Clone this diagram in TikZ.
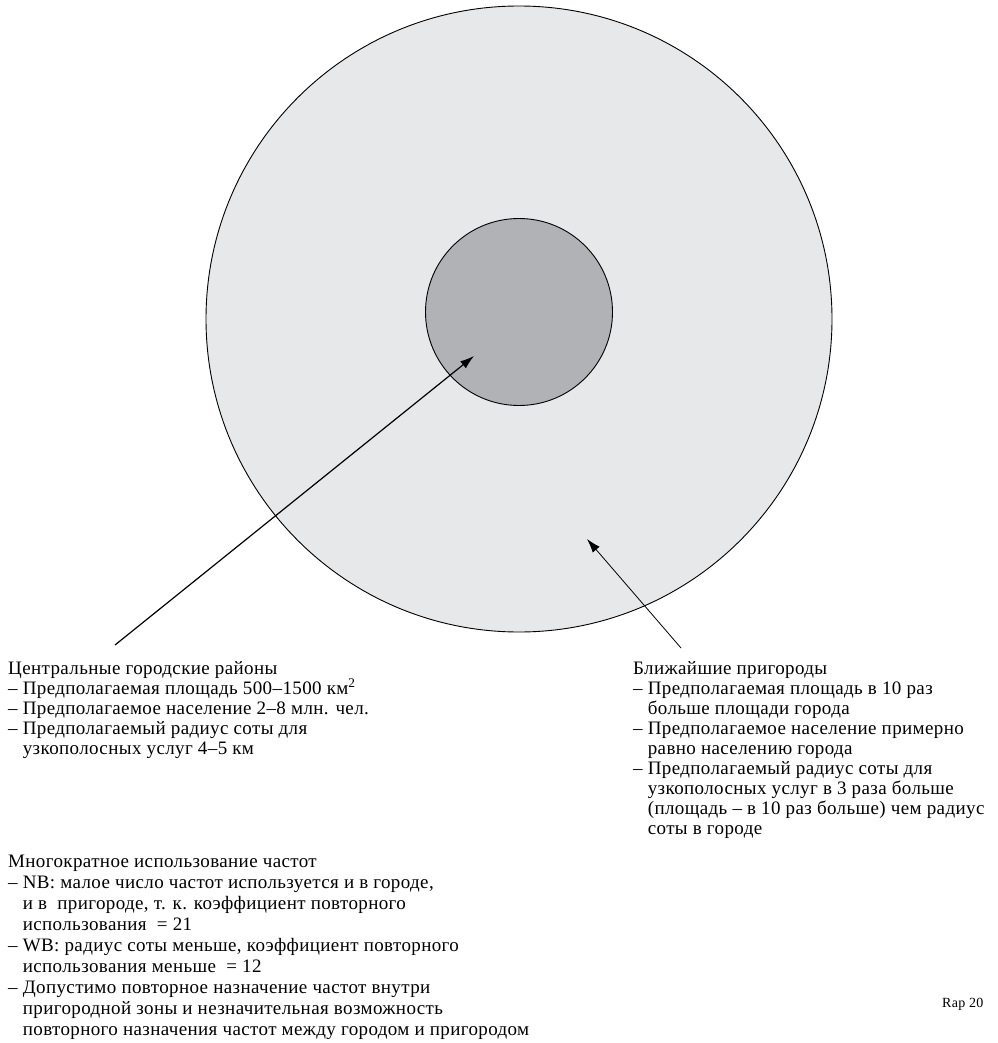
\documentclass[tikz,border=0pt]{standalone}
\usepackage{fontspec}
\setmainfont[LetterSpace=2]{Liberation Serif}
\usetikzlibrary{arrows.meta,shapes.geometric}
\definecolor{outerfill}{RGB}{231,232,234}
\definecolor{innerfill}{RGB}{177,178,181}
\begin{document}
\begin{tikzpicture}[x=1pt,y=-1pt,
  txt/.style={anchor=base west, inner sep=0pt, font=\fontsize{19}{21}\selectfont},
  small/.style={anchor=base west, inner sep=0pt, font=\fontsize{14}{16}\selectfont},
  zone/.style={circle, draw=black, line width=0.9pt, inner sep=0pt},
  ptr/.style={-{Latex[length=14pt,width=9pt]}, line width=1.2pt},
  ptrthin/.style={-{Latex[length=14pt,width=9pt]}, line width=0.8pt}]
\useasboundingbox (0,0) rectangle (997,1043);
\node[zone, fill=outerfill, minimum size=626pt] (suburb) at (519,319) {};
\node[zone, fill=innerfill, minimum size=187pt] (city) at (519,312) {};
\coordinate (citytip) at (474,356);
\coordinate (citytail) at (115,645);
\coordinate (subtip) at (587,539);
\coordinate (subtail) at (681,648);
\draw[ptr] (citytail) -- (citytip);
\draw[ptrthin] (subtail) -- (subtip);
% left block
\node[txt] (l1) at (8,674) {Центральные городские районы};
\node[txt] (l2) at (8,694) {– Предполагаемая площадь 500–1500 км\textsuperscript{2}};
\node[txt] (l3) at (8,714) {– Предполагаемое население 2–8 млн. чел.};
\node[txt] (l4) at (8,734) {– Предполагаемый радиус соты для};
\node[txt] (l5) at (8,754) {\phantom{– }узкополосных услуг 4–5 км};
% right block
\node[txt] (r1) at (633,674) {Ближайшие пригороды};
\node[txt] (r2) at (633,694) {– Предполагаемая площадь в 10 раз};
\node[txt] (r3) at (633,714) {\phantom{– }больше площади города};
\node[txt] (r4) at (633,734) {– Предполагаемое население примерно};
\node[txt] (r5) at (633,754) {\phantom{– }равно населению города};
\node[txt] (r6) at (633,774) {– Предполагаемый радиус соты для};
\node[txt] (r7) at (633,794) {\phantom{– }узкополосных услуг в 3 раза больше};
\node[txt] (r8) at (633,814) {\phantom{– }(площадь – в 10 раз больше) чем радиус};
\node[txt] (r9) at (633,834) {\phantom{– }соты в городе};
% bottom block
\node[txt] (b1) at (8,867) {Многократное использование частот};
\node[txt] (b2) at (8,888) {– NB: малое число частот используется и в городе,};
\node[txt] (b3) at (8,909) {\phantom{– }и в~ пригороде, т. к. коэффициент повторного};
\node[txt] (b4) at (8,930) {\phantom{– }использования~ = 21};
\node[txt] (b5) at (8,951) {– WB: радиус соты меньше, коэффициент повторного};
\node[txt] (b6) at (8,972) {\phantom{– }использования меньше~ = 12};
\node[txt] (b7) at (8,993) {– Допустимо повторное назначение частот внутри};
\node[txt] (b8) at (8,1014) {\phantom{– }пригородной зоны и незначительная возможность};
\node[txt] (b9) at (8,1035) {\phantom{– }повторного назначения частот между городом и пригородом};
\node[small] (rap) at (942,1007) {Rap 20};
\end{tikzpicture}
\end{document}
